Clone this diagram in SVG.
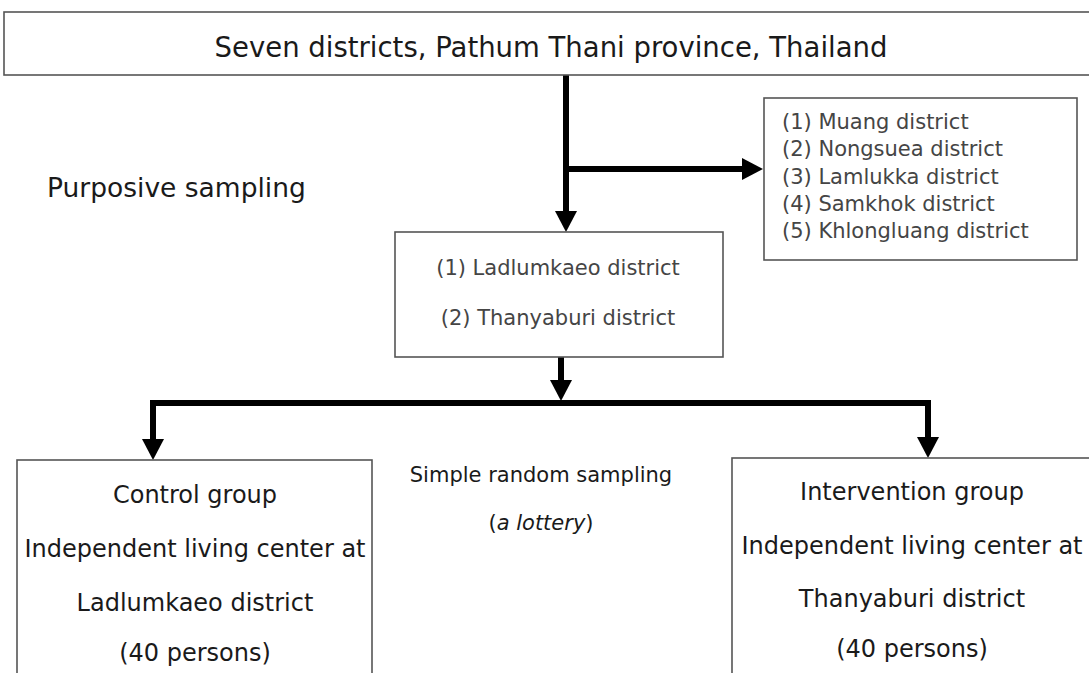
<svg xmlns="http://www.w3.org/2000/svg" width="1089" height="673" viewBox="0 0 1089 673">
<style>
  .box { fill: #ffffff; stroke: #555555; stroke-width: 1.6; }
  .t { font-family: "DejaVu Sans", "Liberation Sans", sans-serif; fill: #1a1a1a; }
  .g { fill: #454545; }
  .mid { text-anchor: middle; }
  .conn { fill: none; stroke: #000000; stroke-width: 6; stroke-linecap: butt; stroke-linejoin: miter; }
</style>
<defs>
  <marker id="ah" viewBox="0 0 21 22" refX="0" refY="11" markerWidth="21" markerHeight="22" markerUnits="userSpaceOnUse" orient="auto">
    <path d="M0,0 L21,11 L0,22 Z" fill="#000000"/>
  </marker>
</defs>
<rect width="1089" height="673" fill="#ffffff"/>

<g id="connectors">
  <path class="conn" d="M566,75 V211" marker-end="url(#ah)"/>
  <path class="conn" d="M566,169 H742" marker-end="url(#ah)"/>
  <path class="conn" d="M561,357 V380" marker-end="url(#ah)"/>
  <path class="conn" d="M561,403 H153 V439" marker-end="url(#ah)"/>
  <path class="conn" d="M561,403 H928 V437" marker-end="url(#ah)"/>
</g>

<g id="node-top">
  <rect class="box" x="4" y="12" width="1095" height="63"/>
  <text class="t mid" x="551" y="57" font-size="27.5">Seven districts, Pathum Thani province, Thailand</text>
</g>

<g id="label-purposive">
  <text class="t" x="47" y="197" font-size="26.5">Purposive sampling</text>
</g>

<g id="node-excluded">
  <rect class="box" x="764" y="98" width="313" height="162"/>
  <text class="t g" x="782" y="129" font-size="21">(1) Muang district</text>
  <text class="t g" x="782" y="156" font-size="21">(2) Nongsuea district</text>
  <text class="t g" x="782" y="183.5" font-size="21">(3) Lamlukka district</text>
  <text class="t g" x="782" y="210.5" font-size="21">(4) Samkhok district</text>
  <text class="t g" x="782" y="238" font-size="21">(5) Khlongluang district</text>
</g>

<g id="node-selected">
  <rect class="box" x="395" y="232" width="328" height="125"/>
  <text class="t g mid" x="558" y="275" font-size="21">(1) Ladlumkaeo district</text>
  <text class="t g mid" x="558" y="325" font-size="21">(2) Thanyaburi district</text>
</g>

<g id="label-random">
  <text class="t mid" x="541" y="482" font-size="21" fill="#333333">Simple random sampling</text>
  <text class="t mid" x="541" y="530" font-size="21" fill="#333333">(<tspan font-style="italic">a lottery</tspan>)</text>
</g>

<g id="node-control">
  <rect class="box" x="17" y="460" width="355" height="230"/>
  <text class="t mid" x="195" y="503" font-size="24">Control group</text>
  <text class="t mid" x="195" y="557" font-size="24">Independent living center at</text>
  <text class="t mid" x="195" y="611" font-size="24">Ladlumkaeo district</text>
  <text class="t mid" x="195" y="661" font-size="24">(40 persons)</text>
</g>

<g id="node-intervention">
  <rect class="box" x="732" y="458" width="370" height="232"/>
  <text class="t mid" x="912" y="500" font-size="24">Intervention group</text>
  <text class="t mid" x="912" y="554" font-size="24">Independent living center at</text>
  <text class="t mid" x="912" y="607" font-size="24">Thanyaburi district</text>
  <text class="t mid" x="912" y="657" font-size="24">(40 persons)</text>
</g>
</svg>
